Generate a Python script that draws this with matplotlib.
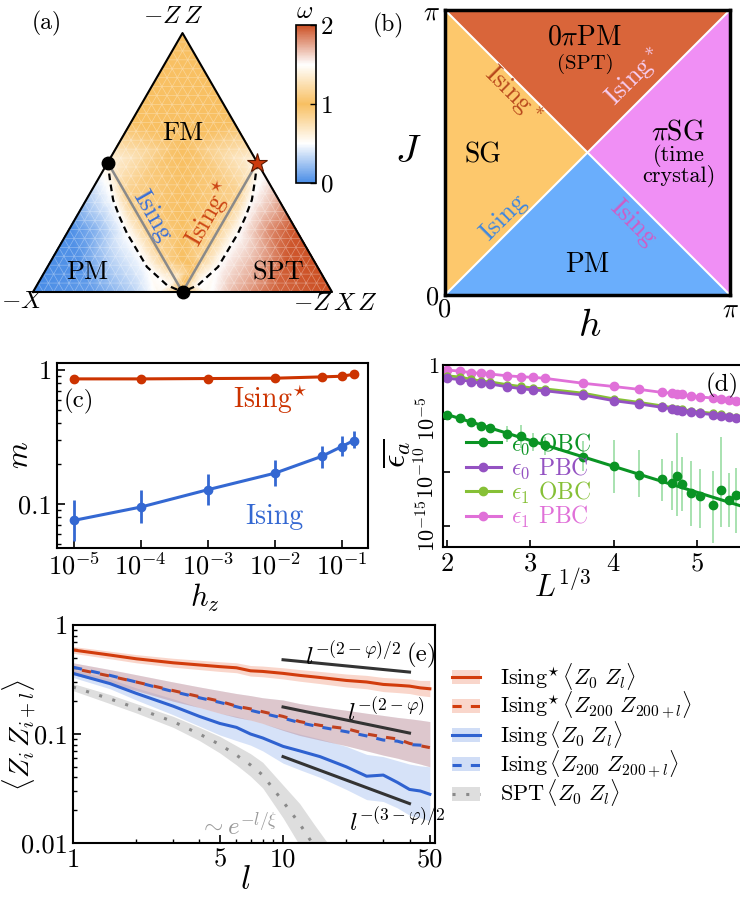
import numpy as np
import matplotlib
matplotlib.use("Agg")
import matplotlib.pyplot as plt
import matplotlib.tri as mtri
from matplotlib.colors import LinearSegmentedColormap
from matplotlib.lines import Line2D
from matplotlib.patches import Patch, Polygon
from matplotlib.legend_handler import HandlerTuple
from matplotlib.ticker import NullFormatter, NullLocator

plt.rcParams.update({
    "font.family": "serif",
    "font.serif": ["cmr10"],
    "mathtext.fontset": "cm",
    "axes.formatter.use_mathtext": True,
    "axes.unicode_minus": False,
    "xtick.direction": "in",
    "ytick.direction": "in",
    "axes.linewidth": 1.5,
})

# ---------------- data ----------------
# (a) omega field, sampled on the ternary triangle (x, y, omega)
node_x = [0.0, 1.0, 0.5, 0.125, 0.25, 0.33, 0.875, 0.75, 0.67,
          0.2, 0.33, 0.42, 0.5, 0.58, 0.67, 0.8,
          0.268, 0.314, 0.381, 0.448, 0.732, 0.686, 0.619, 0.552,
          0.3125, 0.375, 0.4375, 0.6875, 0.625, 0.5625,
          0.5, 0.5, 0.15, 0.85, 0.2, 0.8]
node_y = [0.0, 0.0, 0.866, 0.2165, 0.433, 0.572, 0.2165, 0.433, 0.572,
          0.0, 0.0, 0.0, 0.0, 0.0, 0.0, 0.0,
          0.308, 0.197, 0.084, 0.023, 0.308, 0.197, 0.084, 0.023,
          0.325, 0.2165, 0.108, 0.325, 0.2165, 0.108,
          0.25, 0.5, 0.1, 0.1, 0.2, 0.2]
node_w = [0.0, 2.0, 1.0, 0.02, 0.6, 1.0, 1.98, 1.4, 1.0,
          0.08, 0.3, 0.55, 1.0, 1.45, 1.7, 1.92,
          0.5, 0.5, 0.5, 0.5, 1.5, 1.5, 1.5, 1.5,
          0.85, 0.85, 0.85, 1.15, 1.15, 1.15,
          1.0, 1.0, 0.03, 1.97, 0.15, 1.85]
dash_left_x = [0.25, 0.258, 0.268, 0.29, 0.314, 0.381, 0.448, 0.5]
dash_left_y = [0.433, 0.37, 0.308, 0.25, 0.197, 0.084, 0.023, 0.0]
dash_right_x = [0.75, 0.742, 0.732, 0.71, 0.686, 0.619, 0.552, 0.5]
dash_right_y = dash_left_y

# (b) phase regions in (h, J)
pi = np.pi
phase_sg = [(0, 0), (pi / 2, pi / 2), (0, pi)]
phase_spt = [(0, pi), (pi / 2, pi / 2), (pi, pi)]
phase_tc = [(pi, pi), (pi / 2, pi / 2), (pi, 0)]
phase_pm = [(0, 0), (pi / 2, pi / 2), (pi, 0)]

# (c) magnetisation
hz = [1e-5, 1e-4, 1e-3, 1e-2, 5e-2, 1e-1, 1.5e-1]
m_star = [0.86, 0.86, 0.865, 0.87, 0.89, 0.90, 0.93]
m_ising = [0.0755, 0.095, 0.128, 0.170, 0.227, 0.269, 0.298]
m_ising_lo = [0.053, 0.072, 0.099, 0.136, 0.185, 0.227, 0.26]
m_ising_hi = [0.108, 0.128, 0.168, 0.212, 0.272, 0.32, 0.35]

# (d) energy splittings (log10 values) vs system size L
L_sizes = [8, 10, 12, 14, 16, 20, 24, 28, 32, 48, 64, 80, 96, 104, 108, 112,
           120, 128, 140, 148, 156, 164]
log_e1_pbc = [-0.47, -0.57, -0.72, -0.78, -0.84, -1.0, -1.09, -1.15, -1.24, -1.7, -2.0,
              -2.27, -2.55, -2.62, -2.68, -2.73, -2.9, -2.98, -3.07, -3.15, -3.22, -3.32]
log_e0_pbc = [-1.24, -1.36, -1.55, -1.71, -1.77, -2.02, -2.2, -2.33, -2.4, -2.8, -3.32,
              -3.63, -3.94, -4.1, -4.19, -4.27, -4.4, -4.5, -4.62, -4.72, -4.85, -4.97]
log_e1_obc = [-1.0, -1.12, -1.33, -1.5, -1.57, -1.82, -2.0, -2.14, -2.22, -2.62, -3.15,
              -3.48, -3.8, -3.96, -4.05, -4.14, -4.27, -4.37, -4.5, -4.6, -4.73, -4.86]
log_e0_obc = [-4.66, -4.95, -5.3, -5.68, -5.9, -6.4, -6.62, -7.15, -7.46, -8.55, -9.41,
              -10.2, -10.65, -10.97, -10.35, -11.1, -11.96, -12.2, -13.05, -11.6, -12.58, -12.1]
log_e0_obc_up = [0.2, 0.2, 0.2, 0.2, 0.2, 0.75, 1.0, 0.8, 0.8, 1.5, 2.4,
                 2.3, 1.9, 2.0, 4.0, 2.5, 3.0, 2.5, 3.2, 4.9, 2.5, 2.5]
log_e0_obc_dn = [0.2, 0.2, 0.2, 0.2, 0.2, 0.8, 1.1, 0.9, 0.9, 1.3, 2.5,
                 2.1, 2.0, 2.5, 3.7, 2.5, 3.0, 3.0, 3.5, 3.5, 2.5, 3.5]
fit_x = [2.0, 5.6]
fit_log_e0_obc = [-4.61, -13.29]

# (e) correlations
l_vals = [1, 1.5, 2, 3, 4, 5, 6, 7, 8, 10, 12, 15, 20, 25, 30, 35, 40, 45, 50]
c_star_0 = [0.59, 0.53, 0.49, 0.45, 0.43, 0.415, 0.405, 0.38, 0.375, 0.36, 0.345,
            0.33, 0.31, 0.30, 0.285, 0.28, 0.275, 0.265, 0.26]
c_star_0_lo = [0.55, 0.49, 0.45, 0.41, 0.39, 0.375, 0.365, 0.34, 0.335, 0.32, 0.305,
               0.29, 0.27, 0.26, 0.245, 0.24, 0.235, 0.225, 0.22]
c_star_0_hi = [0.635, 0.575, 0.535, 0.495, 0.475, 0.46, 0.45, 0.425, 0.42, 0.405, 0.39,
               0.375, 0.355, 0.345, 0.33, 0.325, 0.32, 0.31, 0.31]
c_star_200 = [0.40, 0.34, 0.30, 0.25, 0.22, 0.20, 0.18, 0.17, 0.16, 0.145, 0.13,
              0.12, 0.112, 0.10, 0.094, 0.09, 0.082, 0.078, 0.075]
c_ising_200 = [0.41, 0.345, 0.30, 0.245, 0.215, 0.195, 0.178, 0.165, 0.155, 0.14, 0.127,
               0.116, 0.105, 0.096, 0.088, 0.086, 0.080, 0.079, 0.078]
c_200_lo = [0.35, 0.29, 0.25, 0.2, 0.175, 0.155, 0.142, 0.134, 0.125, 0.108, 0.097,
            0.088, 0.078, 0.07, 0.064, 0.06, 0.056, 0.053, 0.05]
c_200_hi = [0.45, 0.39, 0.35, 0.3, 0.27, 0.25, 0.235, 0.225, 0.215, 0.205, 0.19,
            0.178, 0.165, 0.155, 0.148, 0.142, 0.138, 0.134, 0.13]
c_ising_0 = [0.36, 0.29, 0.236, 0.18, 0.145, 0.125, 0.115, 0.10, 0.092, 0.077, 0.07,
             0.062, 0.050, 0.041, 0.042, 0.036, 0.031, 0.030, 0.028]
c_ising_0_lo = [0.33, 0.26, 0.205, 0.15, 0.118, 0.098, 0.087, 0.079, 0.07, 0.054, 0.047,
                0.04, 0.031, 0.025, 0.024, 0.021, 0.018, 0.017, 0.016]
c_ising_0_hi = [0.39, 0.32, 0.265, 0.21, 0.175, 0.155, 0.145, 0.134, 0.125, 0.11, 0.1,
                0.09, 0.077, 0.065, 0.062, 0.057, 0.053, 0.051, 0.05]
l_spt = [1, 1.5, 2, 3, 4, 5, 6, 7, 8, 10, 12, 14, 16, 18]
c_spt = [0.27, 0.21, 0.173, 0.13, 0.10, 0.08, 0.064, 0.052, 0.042, 0.024, 0.015,
         0.0095, 0.006, 0.004]
c_spt_lo = [0.25, 0.19, 0.156, 0.115, 0.087, 0.067, 0.052, 0.041, 0.032, 0.017, 0.0095,
            0.0058, 0.0035, 0.002]
c_spt_hi = [0.29, 0.23, 0.19, 0.145, 0.115, 0.095, 0.078, 0.066, 0.055, 0.034, 0.023,
            0.015, 0.0105, 0.0075]
guide_l = [10, 40]
guide_half = [0.48, 0.37]
guide_full = [0.177, 0.102]
guide_three = [0.062, 0.023]

# ---------------- figure ----------------
W, H = 740, 900
fig = plt.figure(figsize=(7.4, 9), dpi=100)


def rect(x0, y0, x1, y1):
    return [x0 / W, 1 - y1 / H, (x1 - x0) / W, (y1 - y0) / H]


def ftext(px, py, s, **kw):
    kw.setdefault("ha", "center")
    kw.setdefault("va", "center")
    return fig.text(px / W, 1 - py / H, s, **kw)


# ---- (a) ternary phase diagram ----
ax_a = fig.add_axes(rect(0, 0, 370, 310))
ax_a.set_xlim(-33 / 299, 337 / 299)
ax_a.set_ylim(-18 / 299, 292 / 299)
ax_a.axis("off")

omega_cmap = LinearSegmentedColormap.from_list(
    "omega", [(0, "#4a8de6"), (0.25, "#ffffff"), (0.5, "#f8c062"),
              (0.75, "#ffffff"), (1, "#cc5024")])
tri = mtri.Triangulation(node_x, node_y)
refiner = mtri.UniformTriRefiner(tri)
fine_tri, fine_w = refiner.refine_field(
    node_w, triinterpolator=mtri.LinearTriInterpolator(tri, node_w), subdiv=4)
tpc = ax_a.tripcolor(fine_tri, fine_w, shading="gouraud", cmap=omega_cmap,
                     vmin=0, vmax=2, rasterized=True)

n_lat = 29
lat_x, lat_y = [], []
for j in range(n_lat + 1):
    for i in range(n_lat + 1 - j):
        lat_x.append((i + j / 2) / n_lat)
        lat_y.append(j * np.sqrt(3) / 2 / n_lat)
ax_a.triplot(mtri.Triangulation(lat_x, lat_y), color="white", lw=0.5, alpha=0.35)

h3 = np.sqrt(3) / 2
ax_a.plot([0, 1, 0.5, 0], [0, 0, h3, 0], color="black", lw=1.5)
ax_a.plot([0.25, 0.5, 0.75], [h3 / 2, 0, h3 / 2], color="#8a8a8a", lw=1.8)
ax_a.plot(dash_left_x, dash_left_y, color="black", ls=(0, (3, 2)), lw=1.6)
ax_a.plot(dash_right_x, dash_right_y, color="black", ls=(0, (3, 2)), lw=1.6)
ax_a.plot([0.25, 0.5], [h3 / 2, 0], "o", color="black", ms=9, clip_on=False, zorder=5)
ax_a.plot([0.75], [h3 / 2], marker="*", color="#cc3a0c", mec="#5a1800", mew=0.8,
          ms=15, clip_on=False, zorder=5)

ax_a.text(0.5, 0.53, "FM", ha="center", va="center", fontsize=19)
ax_a.text(0.18, 0.065, "PM", ha="center", va="center", fontsize=19)
ax_a.text(0.82, 0.065, "SPT", ha="center", va="center", fontsize=19)
ax_a.text(0.398, 0.255, "Ising", ha="center", va="center", fontsize=19,
          color="#3a6fd6", rotation=-60)
ax_a.text(0.59, 0.262, r"Ising$^{\star}$", ha="center", va="center", fontsize=19,
          color="#cc4514", rotation=60)
ftext(47, 23, "(a)", fontsize=17)
ftext(173, 17, r"$-Z\,Z$", fontsize=18)
ftext(22, 302, r"$-X$", fontsize=18)
ftext(335, 304, r"$-Z\,X\,Z$", fontsize=18)

cax = fig.add_axes(rect(296, 25, 316, 183))
cb = fig.colorbar(tpc, cax=cax, ticks=[0, 1, 2])
cb.ax.tick_params(labelsize=18, direction="in", length=4, width=1)
cb.outline.set_linewidth(1.2)
cb.ax.set_yticklabels(["0", "1", "2"])
ftext(305, 12, r"$\omega$", fontsize=18)

# ---- (b) Floquet phase diagram ----
ax_b = fig.add_axes(rect(445, 10, 730, 295))
ax_b.add_patch(Polygon(phase_sg, closed=True, fc="#fdc86c", ec="none"))
ax_b.add_patch(Polygon(phase_spt, closed=True, fc="#d9653a", ec="none"))
ax_b.add_patch(Polygon(phase_tc, closed=True, fc="#f08ff5", ec="none"))
ax_b.add_patch(Polygon(phase_pm, closed=True, fc="#6aaefc", ec="none"))
ax_b.plot([0, pi], [0, pi], color="white", lw=1.5)
ax_b.plot([0, pi], [pi, 0], color="white", lw=1.5)
ax_b.set_xlim(0, pi)
ax_b.set_ylim(0, pi)
ax_b.set_xticks([0, pi])
ax_b.set_xticklabels(["0", r"$\pi$"])
ax_b.set_yticks([0, pi])
ax_b.set_yticklabels(["0", r"$\pi$"])
ax_b.tick_params(length=0, labelsize=19, pad=2)
ax_b.tick_params(axis="y", pad=4)
for s in ax_b.spines.values():
    s.set_linewidth(2.5)
ftext(590, 326, r"$h$", fontsize=28)
ftext(408, 152, r"$J$", fontsize=28)


def bpos(px, py):
    return (px - 445) / 285, (295 - py) / 285


kw = dict(transform=ax_b.transAxes, ha="center", va="center")
ax_b.text(*bpos(585, 37), r"0$\pi$PM", fontsize=20, **kw)
ax_b.text(*bpos(585, 64), "(SPT)", fontsize=15, **kw)
ax_b.text(*bpos(483, 155), "SG", fontsize=20, **kw)
ax_b.text(*bpos(678, 132), r"$\pi$SG", fontsize=20, **kw)
ax_b.text(*bpos(679, 166), "(time\ncrystal)", fontsize=16, linespacing=0.85, **kw)
ax_b.text(*bpos(587, 265), "PM", fontsize=20, **kw)
ax_b.text(*bpos(512, 95), r"Ising$^*$", fontsize=19, color="#b8481c", rotation=-45, **kw)
ax_b.text(*bpos(635, 78), r"Ising$^*$", fontsize=19, color="#f7cdf2", rotation=45, **kw)
ax_b.text(*bpos(503, 217), "Ising", fontsize=19, color="#3d86e0", rotation=45, **kw)
ax_b.text(*bpos(633, 223), "Ising", fontsize=19, color="#cf5cc6", rotation=-45, **kw)
ftext(388, 25, "(b)", fontsize=17)

# ---- (c) magnetisation ----
ax_c = fig.add_axes(rect(57, 363, 368, 548))
ax_c.plot(hz, m_star, "-o", color="#cc3300", lw=2.2, ms=6)
m_ising_arr = np.array(m_ising)
yerr = [m_ising_arr - np.array(m_ising_lo), np.array(m_ising_hi) - m_ising_arr]
ax_c.errorbar(hz, m_ising, yerr=yerr, fmt="-o", color="#3468d2", lw=2.2, ms=6,
              elinewidth=2, capsize=0)
ax_c.set_xscale("log")
ax_c.set_yscale("log")
ax_c.set_xlim(10 ** -5.25, 10 ** -0.61)
ax_c.set_ylim(0.047, 1.13)
ax_c.set_xticks([1e-5, 1e-4, 1e-3, 1e-2, 1e-1])
ax_c.set_yticks([0.1, 1])
ax_c.set_yticklabels(["0.1", "1"])
ax_c.yaxis.set_minor_formatter(NullFormatter())
ax_c.tick_params(which="both", labelsize=19, top=False, right=False)
ax_c.tick_params(which="major", length=6, width=1.2)
ax_c.tick_params(which="minor", length=3, width=1)
ftext(205, 598, r"$h_z$", fontsize=22)
ftext(20, 455, r"$m$", fontsize=22, rotation=90)
ax_c.text(0.071, 0.79, "(c)", transform=ax_c.transAxes, ha="center", va="center",
          fontsize=18)
ax_c.text(0.685, 0.80, r"Ising$^{\star}$", transform=ax_c.transAxes, ha="center",
          va="center", fontsize=20, color="#cc3300")
ax_c.text(0.698, 0.17, "Ising", transform=ax_c.transAxes, ha="center", va="center",
          fontsize=20, color="#3468d2")

# ---- (d) splittings ----
ax_d = fig.add_axes(rect(443, 365, 751, 547))
xL = np.array(L_sizes) ** (1 / 3)
e0_obc = np.power(10.0, log_e0_obc)
ax_d.errorbar(xL, e0_obc,
              yerr=[e0_obc - np.power(10.0, np.array(log_e0_obc) - np.array(log_e0_obc_dn)),
                    np.power(10.0, np.array(log_e0_obc) + np.array(log_e0_obc_up)) - e0_obc],
              fmt="none", ecolor="#6fcf7c", elinewidth=1.2, alpha=0.7, zorder=1)
ax_d.plot(fit_x, np.power(10.0, fit_log_e0_obc), color="#0a9424", lw=2.2, zorder=2)
ax_d.plot(xL, e0_obc, "o", color="#0a9424", ms=6, zorder=3)
ax_d.plot(xL, np.power(10.0, log_e1_pbc), "-o", color="#e070d8", lw=2, ms=6, zorder=2)
ax_d.plot(xL, np.power(10.0, log_e1_obc), "-o", color="#86c036", lw=2, ms=5, zorder=2)
ax_d.plot(xL, np.power(10.0, log_e0_pbc), "-o", color="#9452c2", lw=2, ms=6, zorder=2)
ax_d.set_yscale("log")
ax_d.set_xlim(1.952, 5.65)
ax_d.set_ylim(10 ** -16.94, 1)
ax_d.set_xticks([2, 3, 4, 5])
ax_d.set_yticks([1, 1e-5, 1e-10, 1e-15])
ax_d.set_yticklabels(["1", r"$10^{-5}$", r"$10^{-10}$", r"$10^{-15}$"])
ax_d.yaxis.set_minor_locator(NullLocator())
ax_d.tick_params(axis="x", labelsize=19)
ax_d.tick_params(axis="y", labelsize=16, pad=3)
ax_d.tick_params(which="both", top=False, right=False, length=5, width=1.2)
for lab in ax_d.get_yticklabels()[1:]:
    lab.set_rotation(90)
    lab.set_va("center")
ftext(563, 587, r"$L^{1/3}$", fontsize=22)
ftext(397, 453, r"$\overline{\epsilon_a}$", fontsize=24, rotation=90)
ax_d.text(0.906, 0.89, "(d)", transform=ax_d.transAxes, ha="center", va="center",
          fontsize=18)
leg_handles = [
    Line2D([], [], color="#0a9424", lw=2.2, marker="o", ms=6),
    Line2D([], [], color="#9452c2", lw=2.2, marker="o", ms=6),
    Line2D([], [], color="#86c036", lw=2.2, marker="o", ms=6),
    Line2D([], [], color="#e070d8", lw=2.2, marker="o", ms=6),
]
leg_labels = [r"$\epsilon_0$ OBC", r"$\epsilon_0$ PBC", r"$\epsilon_1$ OBC",
              r"$\epsilon_1$ PBC"]
ax_d.legend(leg_handles, leg_labels, loc="lower left", bbox_to_anchor=(0.02, 0.0),
            frameon=False, fontsize=17, handlelength=1.5, handletextpad=0.4,
            labelspacing=-0.05, borderpad=0.2, labelcolor="linecolor")

# ---- (e) correlations ----
ax_e = fig.add_axes(rect(73, 625, 435, 843))
red, blue = "#d23c0c", "#2f62d0"
red_band, blue_band, gray_band = "#f08a6a", "#7aa0e8", "#c8c8c8"
ax_e.fill_between(l_spt, c_spt_lo, c_spt_hi, color=gray_band, alpha=0.6, lw=0)
ax_e.fill_between(l_vals, c_ising_0_lo, c_ising_0_hi, color=blue_band, alpha=0.3, lw=0)
ax_e.fill_between(l_vals, c_200_lo, c_200_hi, color=blue_band, alpha=0.3, lw=0)
ax_e.fill_between(l_vals, c_200_lo, c_200_hi, color=red_band, alpha=0.3, lw=0)
ax_e.fill_between(l_vals, c_star_0_lo, c_star_0_hi, color=red_band, alpha=0.35, lw=0)
ax_e.plot(l_spt, c_spt, color="#8a8a8a", lw=2.2, ls=(0, (1, 3.5)))
ax_e.plot(l_vals, c_ising_0, color=blue, lw=2.2)
ax_e.plot(l_vals, c_ising_200, color=blue, lw=2.2, ls=(0, (3, 3)))
ax_e.plot(l_vals, c_star_200, color="#c0401e", lw=2.2, ls=(3, (3, 3)))
ax_e.plot(l_vals, c_star_0, color=red, lw=2.2)
for g in (guide_half, guide_full, guide_three):
    ax_e.plot(guide_l, g, color="#333333", lw=2.2)
ax_e.set_xscale("log")
ax_e.set_yscale("log")
ax_e.set_xlim(1, 52.9)
ax_e.set_ylim(0.01, 1)
ax_e.set_xticks([1, 5, 10, 50])
ax_e.set_xticklabels(["1", "5", "10", "50"])
ax_e.xaxis.set_minor_formatter(NullFormatter())
ax_e.set_yticks([0.01, 0.1, 1])
ax_e.set_yticklabels(["0.01", "0.1", "1"])
ax_e.yaxis.set_minor_formatter(NullFormatter())
ax_e.tick_params(which="both", labelsize=19, top=False, right=False)
ax_e.tick_params(which="major", length=6, width=1.2)
ax_e.tick_params(which="minor", length=3, width=1)
ftext(245, 880, r"$l$", fontsize=24)
ftext(19, 735, r"$\langle Z_i\, Z_{i+l}\rangle$", fontsize=20, rotation=90)
ax_e.text(21.5, 0.53, r"$l^{-(2-\varphi)/2}$", ha="center", va="center", fontsize=18)
ax_e.text(46, 0.53, "(e)", ha="center", va="center", fontsize=18)
ax_e.text(31, 0.16, r"$l^{-(2-\varphi)}$", ha="center", va="center", fontsize=18)
ax_e.text(35, 0.0158, r"$l^{-(3-\varphi)/2}$", ha="center", va="center", fontsize=18)
ax_e.text(6.1, 0.0143, r"$\sim e^{-l/\xi}$", ha="center", va="center", fontsize=18,
          color="#999999")

e_handles = [
    (Patch(fc=red_band, alpha=0.35), Line2D([], [], color=red, lw=2.2)),
    (Patch(fc=red_band, alpha=0.35), Line2D([], [], color=red, lw=2.2, ls=(0, (3, 3)))),
    (Patch(fc=blue_band, alpha=0.35), Line2D([], [], color=blue, lw=2.2)),
    (Patch(fc=blue_band, alpha=0.35), Line2D([], [], color=blue, lw=2.2, ls=(0, (3, 3)))),
    (Patch(fc=gray_band, alpha=0.6), Line2D([], [], color="#8a8a8a", lw=2.2,
                                            ls=(0, (1, 3.5)))),
]
e_labels = [r"Ising$^{\star}\,\langle Z_0\ Z_l\rangle$",
            r"Ising$^{\star}\,\langle Z_{200}\ Z_{200+l}\rangle$",
            r"Ising$\,\langle Z_0\ Z_l\rangle$",
            r"Ising$\,\langle Z_{200}\ Z_{200+l}\rangle$",
            r"SPT$\,\langle Z_0\ Z_l\rangle$"]
fig.legend(e_handles, e_labels, loc="upper left", bbox_to_anchor=(436 / W, 1 - 645 / H),
           frameon=False, fontsize=16, handlelength=1.3, handleheight=0.6,
           handletextpad=0.9, labelspacing=-0.1, borderpad=0.2,
           handler_map={tuple: HandlerTuple(ndivide=1, pad=0)})

fig.savefig("out.png", dpi=100)
